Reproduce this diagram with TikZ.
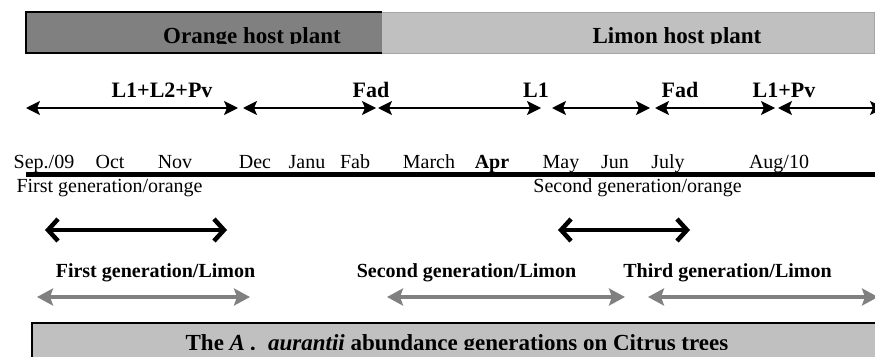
\documentclass[tikz,border=0pt]{standalone}
\usepackage{fontspec}
\setmainfont{Liberation Serif}
\usetikzlibrary{arrows.meta}

\definecolor{orangebar}{RGB}{128,128,128}
\definecolor{limonbar}{RGB}{192,192,192}
\definecolor{limonedge}{RGB}{165,165,165}
\definecolor{limonarrow}{RGB}{128,128,128}

\begin{document}
\begin{tikzpicture}[x=1pt, y=-1pt,
    month/.style={anchor=base, font=\fontsize{20}{24}\selectfont},
    tag/.style={anchor=base, font=\fontsize{20}{24}\selectfont\bfseries},
    period/.style={line width=1.4pt,
        {Stealth[length=14pt,width=14pt,inset=3pt]}-{Stealth[length=14pt,width=14pt,inset=3pt]}},
    generation/.style={line width=4.5pt,
        {Straight Barb[length=10pt,width=22pt]}-{Straight Barb[length=10pt,width=22pt]}},
    limon/.style={draw=limonarrow, line width=4.5pt,
        {Stealth[length=16pt,width=17pt,inset=3pt]}-{Stealth[length=16pt,width=17pt,inset=3pt]}}]
    \def\sz{\fontsize{23}{26}\selectfont}
    \def\lb{\fontsize{22}{26}\selectfont}

    \useasboundingbox (0,0) rectangle (875,356);
    \clip (0,0) rectangle (875,356);

    \fill[limonbar] (382,12) rectangle (874,53);
    \draw[limonedge, line width=1pt] (382,12) -- (874,12) -- (874,53) -- (382,53);
    \fill[orangebar] (26,12) rectangle (382,53);
    \draw[line width=1.3pt] (382,12) -- (26,12) -- (26,53) -- (382,53);
    \begin{scope}
    \clip (26,12) rectangle (874,43.5);
    \node[tag, font=\sz\bfseries] (orange) at (252,43) {Orange host plant};
    \node[tag, font=\sz\bfseries] (limon) at (677,43) {Limon host plant};
    \end{scope}

    \foreach \n/\xa/\xb in {1/26/238, 2/243/376, 3/378/541, 4/552/650, 5/655/775, 6/778/884}{
        \coordinate (ps\n) at (\xa,108);
        \coordinate (pe\n) at (\xb,108);
        \draw[period] (ps\n) -- (pe\n);
    }
    \foreach \x/\t [count=\i] in {162/L1+L2+Pv, 371/Fad, 536/L1, 680/Fad, 784/L1+Pv}
        \node[tag, font=\lb\bfseries] (stage\i) at (\x,97) {\t};

    \foreach \x/\m [count=\i] in {44/{Sep./09}, 110/Oct, 175/Nov, 255/Dec, 307/Janu,
        355/Fab, 429/March, 492/{\textbf{Apr}}, 561/May, 615/Jun, 668/July, 779/{Aug/10}}
        \node[month] (m\i) at (\x,168) {\m};

    \coordinate (axisstart) at (26,174.5);
    \coordinate (axisend) at (880,174.5);
    \draw[line width=5.5pt] (axisstart) -- (axisend);

    \node[month, anchor=base west] (orange1) at (13,192) {First generation/orange};
    \node[month] (orange2) at (637.5,192) {Second generation/orange};

    \coordinate (os1) at (45,230);
    \coordinate (oe1) at (227,230);
    \coordinate (os2) at (558,230);
    \coordinate (oe2) at (690,230);
    \draw[generation] (os1) -- (oe1);
    \draw[generation] (os2) -- (oe2);

    \node[tag] (limon1) at (155.5,277) {First generation/Limon};
    \node[tag] (limon2) at (466.5,277) {Second generation/Limon};
    \node[tag] (limon3) at (727.5,277) {Third generation/Limon};

    \coordinate (ls1) at (37,297);
    \coordinate (le1) at (250,297);
    \coordinate (ls2) at (387,297);
    \coordinate (le2) at (625,297);
    \coordinate (ls3) at (648,297);
    \coordinate (le3) at (878,297);
    \draw[limon] (ls1) -- (le1);
    \draw[limon] (ls2) -- (le2);
    \draw[limon] (ls3) -- (le3);

    \draw[fill=limonbar, line width=1.8pt] (32,323) rectangle (900,400);
    \begin{scope}
    \clip (32,323) rectangle (875,349);
    \node[tag, font=\sz\bfseries] (title) at (457,350)
        {The \textit{A .}\ \ \textit{aurantii} abundance generations on Citrus trees};
    \end{scope}
\end{tikzpicture}
\end{document}
